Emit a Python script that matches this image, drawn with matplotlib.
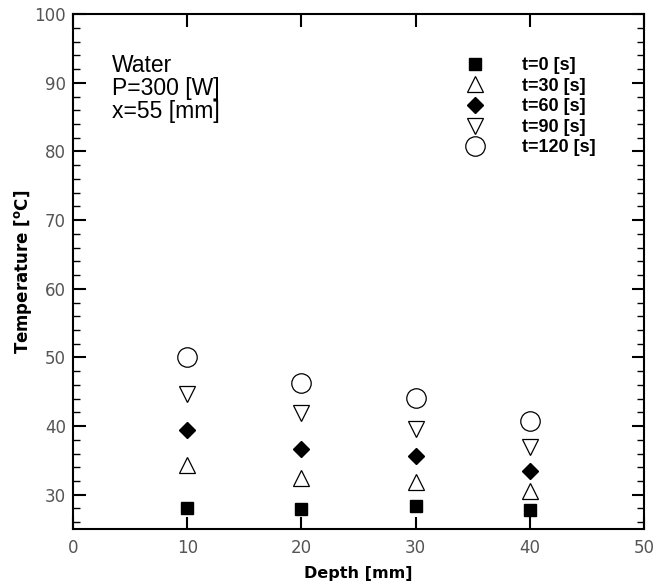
import matplotlib
matplotlib.use("Agg")
import matplotlib.pyplot as plt
from matplotlib.ticker import MultipleLocator

plt.rcParams['font.family'] = ['Liberation Sans', 'DejaVu Sans']

depth = [10, 20, 30, 40]
t0 = [28.0, 27.9, 28.3, 27.7]
t30 = [34.3, 32.4, 31.9, 30.5]
t60 = [39.4, 36.7, 35.6, 33.4]
t90 = [44.6, 41.9, 39.6, 36.9]
t120 = [50.0, 46.3, 44.1, 40.8]
labels = ['t=0 [s]', 't=30 [s]', 't=60 [s]', 't=90 [s]', 't=120 [s]']

fig = plt.figure(figsize=(6.64, 5.85), dpi=100)
ax = fig.add_axes([0.110, 0.0957, 0.860, 0.880])

ax.plot(depth, t0, 's', ms=9, color='black', label=labels[0], clip_on=False)
ax.plot(depth, t30, '^', ms=11, mfc='white', mec='black', mew=0.9, label=labels[1])
ax.plot(depth, t60, 'D', ms=8.5, color='black', label=labels[2])
ax.plot(depth, t90, 'v', ms=11, mfc='white', mec='black', mew=0.9, label=labels[3])
ax.plot(depth, t120, 'o', ms=14, mfc='white', mec='black', mew=0.9, label=labels[4])

ax.set_xlim(0, 50)
ax.set_ylim(25, 100)
ax.xaxis.set_major_locator(MultipleLocator(10))
ax.set_yticks([30, 40, 50, 60, 70, 80, 90, 100])
ax.yaxis.set_minor_locator(MultipleLocator(2))
ax.tick_params(which='major', direction='in', length=9, width=1.5, top=True, right=True,
               labelsize=12, labelcolor='#555555')
ax.tick_params(axis='x', pad=7)
ax.tick_params(axis='y', pad=5)
ax.tick_params(which='minor', direction='in', length=5, width=1.0, right=True)
for lab in ax.get_xticklabels() + ax.get_yticklabels():
    lab.set_family('DejaVu Sans')
for s in ax.spines.values():
    s.set_linewidth(1.5)

ax.set_xlabel('Depth [mm]', fontsize=11.5, fontweight='bold', family='DejaVu Sans', labelpad=7)
ax.set_ylabel(r'Temperature [$\mathbf{^{o}}$C]', fontsize=12, fontweight='bold',
              family='DejaVu Sans', labelpad=0)

ax.text(0.0685, 0.923, 'Water\nP=300 [W]\nx=55 [mm]', transform=ax.transAxes,
        fontsize=16.5, va='top', ha='left', linespacing=1.0)

leg = ax.legend(loc='upper left', bbox_to_anchor=(457 / 664, (585 - 57) / 585),
                bbox_transform=fig.transFigure, frameon=False, borderpad=0,
                borderaxespad=0, handlelength=2, handletextpad=1.6, labelspacing=0.2,
                prop={'family': 'Liberation Sans', 'weight': 'bold', 'size': 13})

fig.savefig('out.png', dpi=100)
